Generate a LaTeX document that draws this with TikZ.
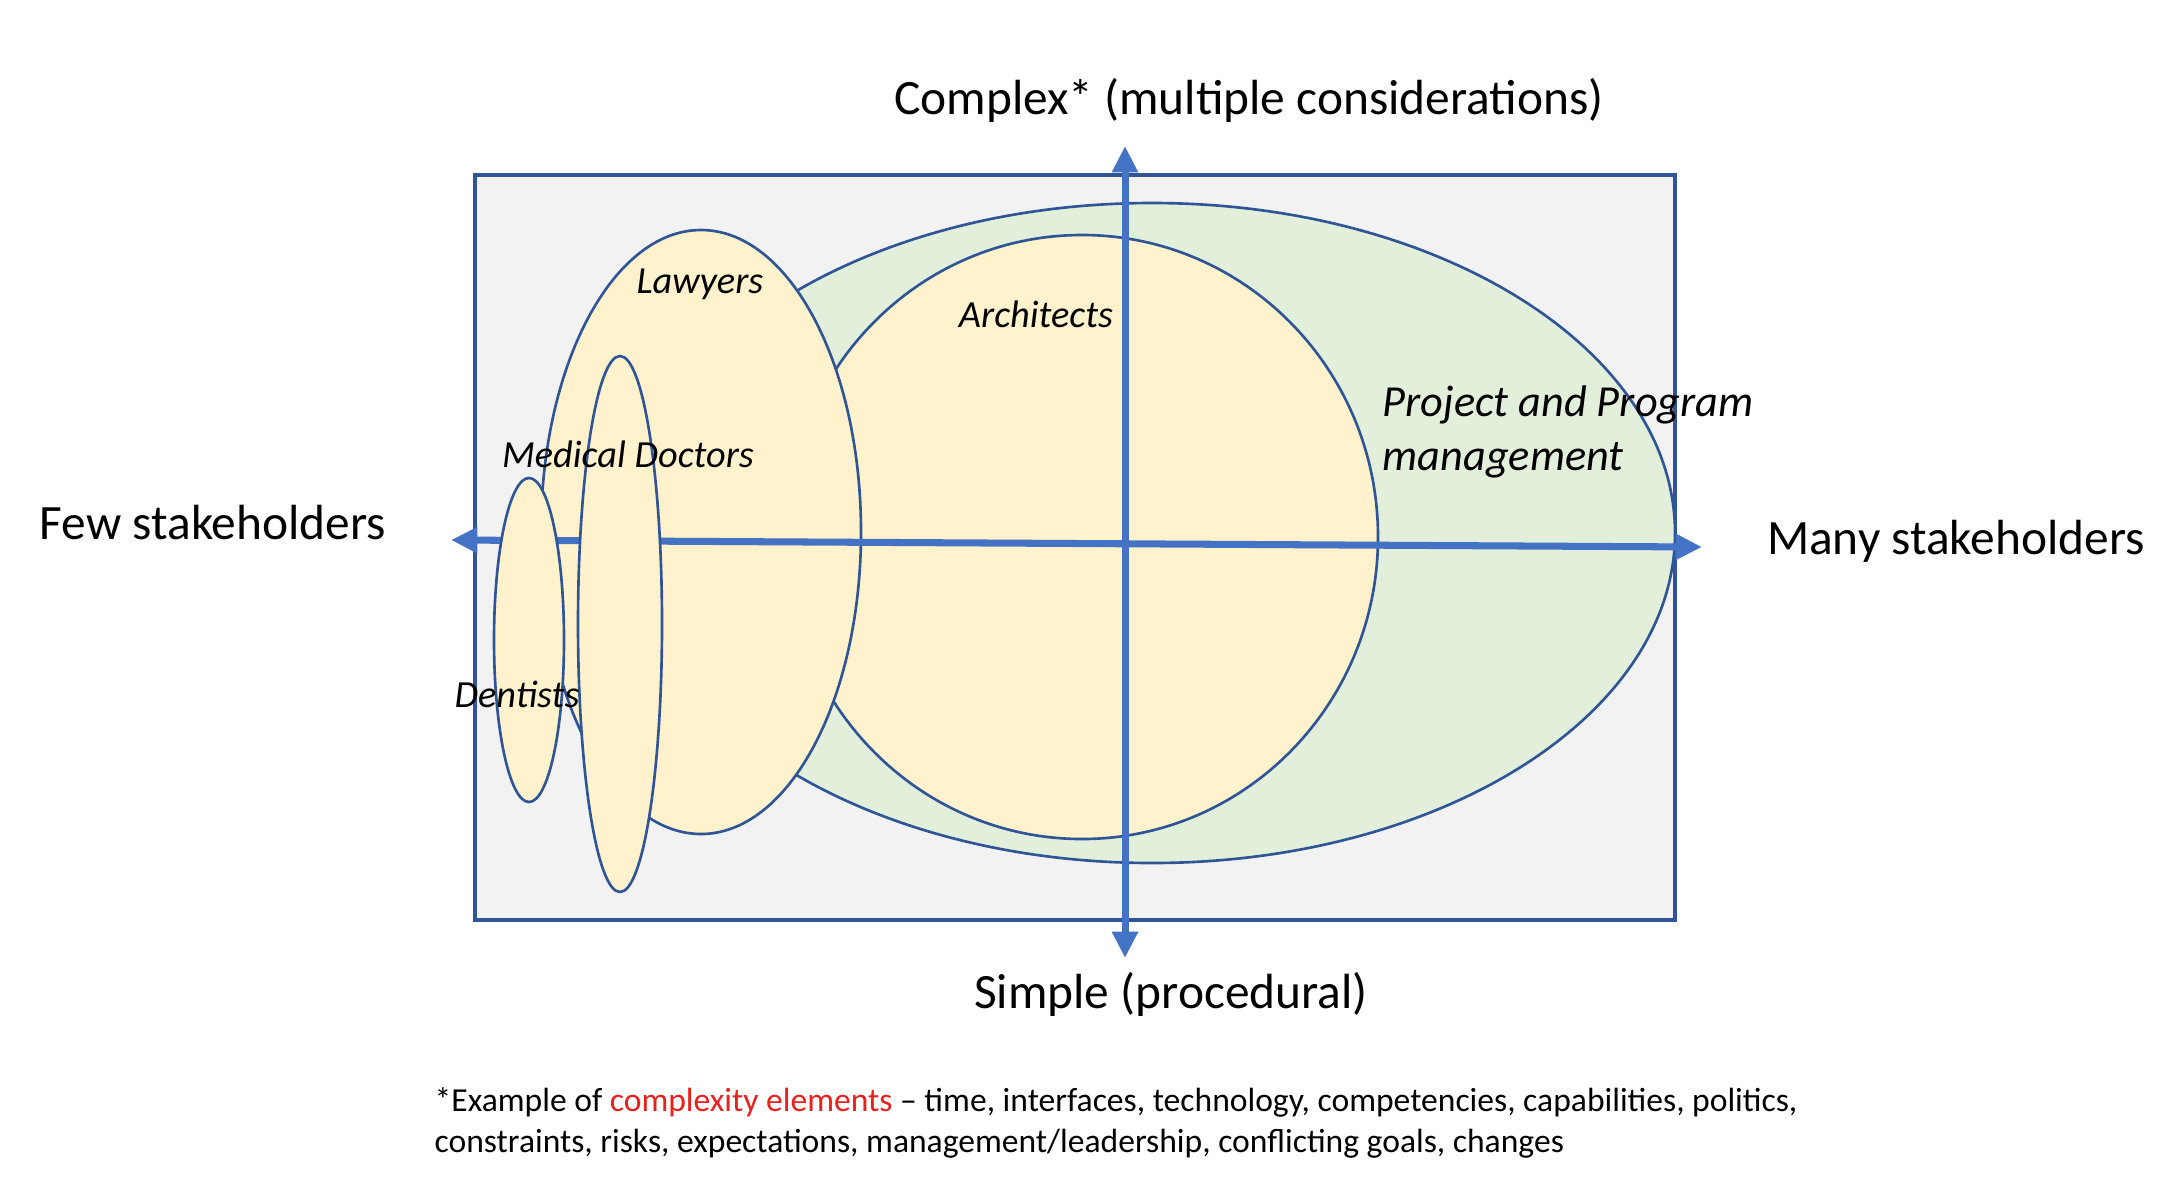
\documentclass[tikz,border=0pt]{standalone}
\usepackage{fontspec}
\setmainfont{Carlito}
\usetikzlibrary{arrows.meta}
\definecolor{bggray}{HTML}{F2F2F2}
\definecolor{pale}{HTML}{FFF2CC}
\definecolor{palegreen}{HTML}{E2EFDA}
\definecolor{edge}{HTML}{2F5597}
\definecolor{axisblue}{HTML}{4472C4}
\definecolor{hred}{HTML}{E8201E}
\tikzset{
  blob/.style={draw=edge, line width=0.75pt},
  axisline/.style={draw=axisblue, line width=2pt, {Triangle[length=7.5pt,width=7pt]}-{Triangle[length=7.5pt,width=7pt]}},
  biglabel/.style={font=\fontsize{14.05}{16}\selectfont, inner sep=0pt},
  grouplabel/.style={font=\fontsize{10.9}{13}\selectfont\itshape, inner sep=0pt},
  notelabel/.style={font=\fontsize{9.55}{11.7}\selectfont, inner sep=0pt, align=left}
}
\begin{document}
\begin{tikzpicture}[x=0.01cm,y=-0.01cm]
\useasboundingbox (0,0) rectangle (2176,1178);
% frame
\draw[edge, line width=1pt, fill=bggray] (475,175) rectangle (1675,920);
% ellipses
\path[blob, fill=palegreen] (1152,533) ellipse [x radius=523, y radius=330];
\path[blob, fill=pale] (1082,537) ellipse [x radius=296, y radius=302];
\path[blob, fill=pale] (701,532) ellipse [x radius=160, y radius=302];
% axes
\coordinate (hL) at (451,540);
\coordinate (hR) at (1702,547);
\coordinate (vT) at (1125,146);
\coordinate (vB) at (1125,958);
\draw[axisline] (hL) -- (hR);
\draw[axisline] (vB) -- (vT);
\path[blob, fill=pale] (620,624) ellipse [x radius=42, y radius=268];
\path[blob, fill=pale] (529,640) ellipse [x radius=35, y radius=162];
% labels
\node[biglabel] (complex) at (1249,100) {Complex* (multiple considerations)};
\node[biglabel] (simple) at (1171,994) {Simple (procedural)};
\node[biglabel] (few) at (213,523) {Few stakeholders};
\node[biglabel] (many) at (1956,541) {Many stakeholders};
\node[grouplabel] (lawyers) at (700,284) {Lawyers};
\node[grouplabel] (architects) at (1036,314) {Architects};
\node[grouplabel] (medical) at (628,454) {Medical Doctors};
\node[grouplabel] (dentists) at (517,694) {Dentists};
\node[grouplabel, font=\fontsize{12.6}{15.4}\selectfont\itshape, align=left, anchor=west] (pm) at (1382,432) {Project and Program\\management};
\node[notelabel, anchor=west] (note) at (434,1123) {*Example of \textcolor{hred}{complexity elements} -- time, interfaces, technology, competencies, capabilities, politics,\\constraints, risks, expectations, management/leadership, conflicting goals, changes};
\end{tikzpicture}
\end{document}
